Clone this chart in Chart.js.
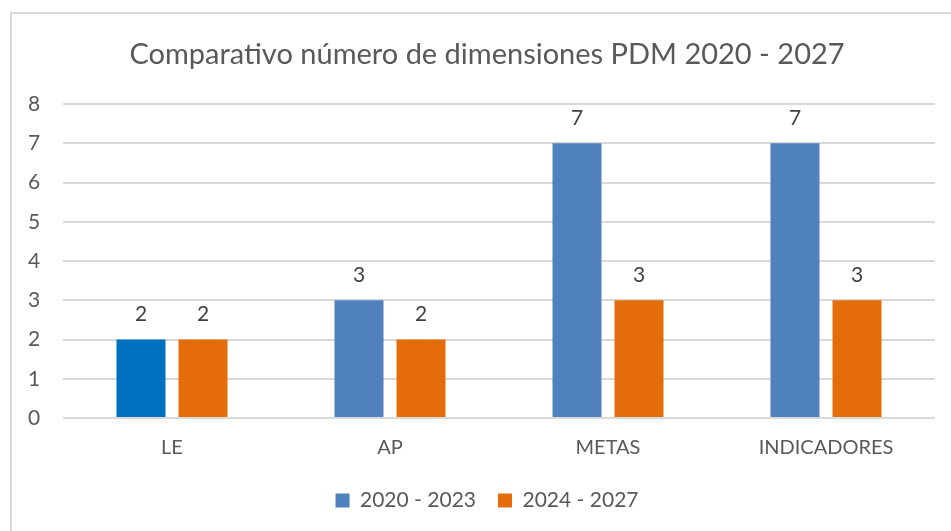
<!DOCTYPE html>
<html>
<head>
<meta charset="utf-8">
<script src="https://cdn.jsdelivr.net/npm/chart.js@4"></script>
<style>
  html, body { margin: 0; padding: 0; background: #fff; }
  #wrap { width: 951px; height: 531px; }
</style>
</head>
<body>
<div id="wrap"><canvas id="barChart" width="951" height="531"></canvas></div>
<script>
const categories = ['LE', 'AP', 'METAS', 'INDICADORES'];
const series2020 = [2, 3, 7, 7];
const series2024 = [2, 2, 3, 3];
const yTicks = [0, 1, 2, 3, 4, 5, 6, 7, 8];

const blue = '#4F81BD';
const blueFirst = '#0070C0';
const orange = '#E46C0A';
const textColor = '#595959';
const gridColor = '#D9D9D9';
const fontFamily = 'Lato, "Open Sans", sans-serif';

// frame around the chart object (open on right/bottom like the screenshot)
const framePlugin = {
  id: 'frame',
  beforeDraw(chart) {
    const ctx = chart.ctx;
    ctx.save();
    ctx.fillStyle = '#fff';
    ctx.fillRect(0, 0, chart.width, chart.height);
    ctx.strokeStyle = gridColor;
    ctx.lineWidth = 2;
    ctx.strokeRect(11, 13, 1200, 1200);
    ctx.restore();
  }
};

// value labels above each bar
const valueLabels = {
  id: 'valueLabels',
  afterDatasetsDraw(chart) {
    const ctx = chart.ctx;
    ctx.save();
    ctx.font = '21px ' + fontFamily;
    ctx.fillStyle = '#404040';
    ctx.textAlign = 'center';
    ctx.textBaseline = 'middle';
    chart.data.datasets.forEach((ds, i) => {
      chart.getDatasetMeta(i).data.forEach((bar, j) => {
        ctx.fillText(ds.data[j], bar.x, bar.y - 25);
      });
    });
    ctx.restore();
  }
};

const ctxBar = document.getElementById('barChart');
new Chart(ctxBar, {
  type: 'bar',
  data: {
    labels: categories,
    datasets: [
      {
        label: '2020 - 2023',
        data: series2020,
        backgroundColor: series2020.map((v, i) => i === 0 ? blueFirst : blue),
        barPercentage: 0.79,
        categoryPercentage: 0.569
      },
      {
        label: '2024 - 2027',
        data: series2024,
        backgroundColor: orange,
        barPercentage: 0.79,
        categoryPercentage: 0.569
      }
    ]
  },
  options: {
    responsive: false,
    animation: false,
    layout: {
      padding: { left: 39, right: 16, top: 0, bottom: 10 }
    },
    plugins: {
      title: {
        display: true,
        text: 'Comparativo número de dimensiones PDM 2020 - 2027',
        color: textColor,
        font: { family: fontFamily, size: 29, weight: 'normal', lineHeight: 1.2 },
        padding: { top: 37, bottom: 32.2 }
      },
      legend: {
        position: 'bottom',
        labels: {
          color: textColor,
          font: { family: fontFamily, size: 21 },
          boxWidth: 14,
          boxHeight: 14,
          padding: 22,
          generateLabels(chart) {
            const items = Chart.defaults.plugins.legend.labels.generateLabels(chart);
            items[0].fillStyle = blue;
            items.forEach(it => { it.lineWidth = 0; it.strokeStyle = 'transparent'; });
            return items;
          }
        }
      },
      tooltip: { enabled: false }
    },
    scales: {
      x: {
        grid: { display: false, drawTicks: false },
        border: { display: false },
        ticks: {
          color: textColor,
          font: { family: fontFamily, size: 20 },
          padding: 18
        },
        afterFit(scale) { scale.height = 50; }
      },
      y: {
        min: 0,
        max: 8,
        afterBuildTicks(scale) {
          scale.ticks = yTicks.map(v => ({ value: v }));
        },
        grid: { color: gridColor, lineWidth: 2, drawTicks: false },
        border: { display: false },
        ticks: {
          color: textColor,
          font: { family: fontFamily, size: 21 },
          mirror: true,
          padding: -35
        },
        afterFit(scale) { scale.width = 24; }
      }
    }
  },
  plugins: [framePlugin, valueLabels]
});
</script>
</body>
</html>
